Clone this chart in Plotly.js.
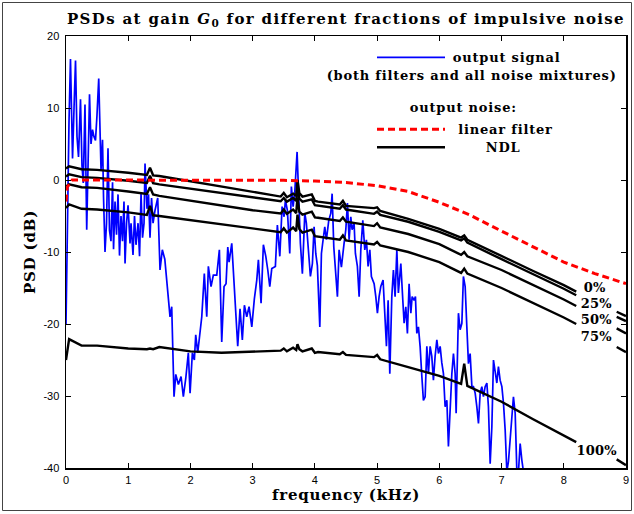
<!DOCTYPE html>
<html>
<head>
<meta charset="utf-8">
<script src="https://cdn.plot.ly/plotly-3.0.1.min.js"></script>
<style>
html,body{margin:0;padding:0;background:#fff}
#chart{width:634px;height:514px}
#chart text.gtitle{letter-spacing:1.35px}
#chart text.xtitle, #chart text.ytitle{letter-spacing:0.8px}
#chart .annotation text{letter-spacing:0.8px}
#chart .annotation[data-index="0"] text, #chart .annotation[data-index="1"] text, #chart .annotation[data-index="2"] text, #chart .annotation[data-index="3"] text, #chart .annotation[data-index="4"] text{letter-spacing:0.2px}
</style>
</head>
<body>
<div id="chart"></div>
<script>
// ---- tick labels ----
const xTickVals = [0,1,2,3,4,5,6,7,8,9];
const xTickText = ['0','1','2','3','4','5','6','7','8','9'];
const yTickVals = [-40,-30,-20,-10,0,10,20];
const yTickText = ['-40','-30','-20','-10','0','10','20'];

// ---- output signal (kHz, dB) ----
const fSignal = [0.000,0.024,0.048,0.072,0.105,0.129,0.153,0.177,0.201,0.233,0.257,0.278,0.305,0.333,0.354,0.378,0.402,0.426,0.450,0.474,0.498,0.526,0.563,0.587,0.603,0.627,0.651,0.675,0.699,0.723,0.748,0.764,0.788,0.812,0.836,0.860,0.884,0.908,0.932,0.949,0.973,0.997,1.029,1.045,1.077,1.101,1.125,1.158,1.182,1.206,1.230,1.254,1.270,1.302,1.326,1.350,1.375,1.399,1.431,1.474,1.511,1.548,1.588,1.619,1.672,1.699,1.736,1.764,1.806,1.849,1.886,1.924,1.966,1.994,2.031,2.063,2.085,2.117,2.143,2.182,2.223,2.262,2.288,2.331,2.368,2.423,2.465,2.503,2.540,2.572,2.600,2.621,2.664,2.717,2.760,2.797,2.834,2.867,2.905,2.942,2.986,3.027,3.066,3.092,3.135,3.172,3.211,3.243,3.275,3.307,3.365,3.397,3.436,3.473,3.505,3.526,3.558,3.596,3.622,3.650,3.677,3.714,3.741,3.767,3.799,3.838,3.863,3.891,3.928,3.960,3.987,4.014,4.040,4.079,4.105,4.132,4.159,4.185,4.223,4.256,4.277,4.304,4.330,4.362,4.389,4.426,4.469,4.497,4.523,4.550,4.577,4.598,4.630,4.651,4.683,4.711,4.738,4.770,4.802,4.828,4.855,4.883,4.908,4.952,4.979,5.005,5.032,5.059,5.096,5.124,5.150,5.177,5.204,5.236,5.262,5.289,5.317,5.342,5.381,5.413,5.434,5.461,5.487,5.514,5.542,5.563,5.595,5.616,5.638,5.664,5.691,5.719,5.744,5.772,5.799,5.825,5.852,5.879,5.905,5.932,5.960,5.986,6.013,6.040,6.066,6.093,6.121,6.146,6.174,6.201,6.227,6.254,6.270,6.291,6.307,6.334,6.362,6.387,6.415,6.442,6.468,6.495,6.523,6.548,6.576,6.603,6.629,6.656,6.683,6.709,6.736,6.764,6.789,6.817,6.844,6.870,6.897,6.924,6.950,6.977,7.005,7.031,7.058,7.085,7.111,7.138,7.166,7.191,7.219,7.246,7.272,7.299,7.326,7.352];
const psdSignal = [-20,-5,8,16.8,3,10,16.6,6,3.2,11.2,2,-0.4,10.5,-6.9,4,11.9,5,7,6,5.5,9,14.1,1.4,5.6,-2.3,-10,-6,4.4,-7,-8.5,-0.3,-9.6,-3,-7.6,-2,-10.5,-5,-8.5,-3,-11.6,-6,-3.5,-8.8,-6,-10.4,-5,-9,-6,-10.6,-1.9,-8,-6,2.3,-4,-2,-8,-2.5,-6,-4.2,-2.5,-12.5,-9.7,-11,-13.9,-19,-17.6,-30.1,-27,-28.4,-27.3,-30.1,-27.6,-24,-29.6,-24,-25,-21.5,-24,-22,-19,-13,-19,-12,-14.8,-13.2,-13.2,-9.7,-22.5,-14.8,-14.4,-9.3,-11.4,-8.8,-17.6,-23.1,-17.9,-22.2,-17.4,-19,-17.6,-20.4,-16.5,-13.9,-11.1,-17.1,-9,-10.6,-12.5,-14.8,-12.3,-12,-6.25,-10.6,-3.7,-5.1,-2.8,-4.2,-10.2,-0.9,-3.7,-1.6,3.9,-2.3,-8.8,-13,-4.6,-6,-9.7,-13.4,-11.6,-6.5,-10.2,-11.9,-20.4,-10.2,-8.3,-6.5,-8.3,-5.6,-4.6,-1.9,-9.3,-12.1,-16.2,-9.7,-12.1,-8.8,-6.9,-3.2,-8.3,-5.1,-6.9,-6,-10.2,-12,-16.2,-9.7,-5.6,-9.7,-8.3,-12,-9.7,-13.4,-14.4,-16.2,-18.5,-16.2,-14.8,-13.9,-18.5,-23.1,-16.7,-26.9,-16.2,-12.5,-16.2,-9.7,-15.7,-11.6,-16.7,-19.9,-17.6,-21.3,-14.4,-18.5,-16.2,-16.7,-16.2,-21.3,-20.4,-23.1,-27.3,-30.6,-30.1,-23.1,-26.9,-23.1,-24.5,-27.8,-24.5,-22.2,-24.1,-23.1,-25.4,-26.9,-31.5,-30.6,-37,-31.5,-26.9,-24.1,-26.9,-32.4,-23.6,-18.5,-20.8,-19.9,-13.4,-14.8,-20.4,-25.5,-24.1,-28.7,-28.7,-29.6,-31.5,-33.8,-29.6,-28.7,-30.1,-28.7,-28.2,-31.5,-39.4,-34.3,-25,-26.9,-28.2,-25.9,-27.8,-28.7,-31,-34.7,-40.5,-39.1,-35.9,-33.6,-30.1,-32.4,-40.5,-40.5,-36.6,-38.9,-40.5];

// ---- output noise, linear filter ----
const fLinear = [0,0.02,0.1,0.5,1,2,3,3.5,4,4.5,5,5.5,6,6.5,7,7.5,8,8.5,9];
const psdLinear = [-3,-1,0,0,0,0,0,-0.05,-0.15,-0.35,-0.8,-1.6,-3.1,-4.9,-7.1,-9.3,-11.4,-13.0,-14.4];

// ---- output noise, NDL for each impulsive fraction (null = label gap) ----
const fNdl = [0,0.05,0.25,0.5,1.0,1.3,1.35,1.4,1.5,2.0,2.5,3.0,3.45,3.5,3.55,3.65,3.7,3.72,3.75,3.8,3.95,4.0,4.05,4.4,4.45,4.5,4.95,5.0,5.05,5.5,6.0,6.35,6.4,6.45,7.0,7.5,8.0,8.2,8.5,8.85,9.0];
const ndl0   = [1.6,1.9,1.5,1.4,1.0,0.7,1.7,0.65,0.55,-0.2,-0.9,-1.7,-2.3,-1.8,-2.4,-1.9,-2.2,0.0,-1.8,-2.3,-2.0,-2.9,-3.0,-3.4,-2.9,-3.6,-3.9,-3.8,-4.3,-5.4,-6.8,-8.0,-7.7,-8.3,-10.6,-12.6,-14.6,-15.5,null,-18.3,-18.9];
const ndl25  = [0.5,0.8,0.4,0.3,-0.1,-0.4,0.6,-0.45,-0.6,-1.2,-1.8,-2.5,-2.95,-2.5,-3.0,-2.5,-2.9,-0.8,-2.6,-3.0,-2.7,-3.5,-3.55,-4.0,-3.5,-4.1,-4.7,-4.4,-4.85,-5.8,-7.2,-8.4,-8.1,-8.7,-11.0,-13.0,-15.1,-16.0,null,-19.0,-19.6];
const ndl50  = [-0.9,-0.6,-1.0,-1.1,-1.6,-1.95,-1.0,-2.0,-2.2,-2.9,-3.6,-4.2,-4.65,-4.1,-4.7,-4.1,-4.6,-2.4,-4.4,-4.8,-4.4,-5.2,-5.25,-5.7,-5.2,-5.8,-6.4,-6.0,-6.6,-7.5,-8.9,-10.4,-10.0,-10.6,-12.5,-14.5,-16.6,-17.5,null,-20.6,-21.3];
const ndl75  = [-3.9,-3.4,-4.0,-4.1,-4.5,-4.85,-3.6,-4.9,-5.0,-5.6,-6.2,-6.8,-7.25,-6.7,-7.3,-6.6,-7.1,-4.8,-6.8,-7.3,-6.9,-7.8,-7.85,-8.3,-7.7,-8.4,-8.95,-8.6,-9.1,-10.0,-11.4,-12.9,-12.3,-13.0,-15.0,-17.0,-19.1,-20.0,null,-23.2,-23.9];
const ndl100 = [-25.0,-22.1,-23.0,-23.0,-23.4,-23.5,-23.4,-23.5,-23.2,-23.8,-24.0,-23.8,-23.7,-23.4,-23.8,-23.3,-23.6,-22.8,-23.5,-23.8,-23.4,-24.0,-23.9,-24.2,-23.9,-24.3,-24.6,-24.3,-24.9,-26.0,-27.2,-28.3,-25.5,-28.6,-30.8,-33.2,-35.5,-36.4,null,-38.8,-39.6];
const ndlSeries = [ndl0, ndl25, ndl50, ndl75, ndl100];
const ndlLabels = ['0%','25%','50%','75%','100%'];

// ---- legend texts ----
const legSignal = 'output signal';
const legSignal2 = '(both filters and all noise mixtures)';
const legNoiseHead = 'output noise:';
const legLinear = 'linear filter';
const legNdl = 'NDL';

const serif = 'DejaVu Serif';
const sans = 'Liberation Sans';

const traces = [];
traces.push({x: fSignal, y: psdSignal, mode: 'lines', line: {color: '#0000ff', width: 1.7}, showlegend: false, hoverinfo: 'skip'});
ndlSeries.forEach(s => traces.push({x: fNdl, y: s, mode: 'lines', line: {color: '#000000', width: 2.4}, connectgaps: false, showlegend: false, hoverinfo: 'skip'}));
traces.push({x: fLinear, y: psdLinear, mode: 'lines', line: {color: '#ff0000', width: 3, dash: '7px,4px'}, showlegend: false, hoverinfo: 'skip'});

// label anchor positions (data coords) for the fraction labels
const labelPos = [[8.50,-14.9],[8.52,-17.1],[8.52,-19.4],[8.52,-21.7],[8.54,-37.6]];
const annotations = ndlLabels.map((t,i) => ({x: labelPos[i][0], y: labelPos[i][1], xref:'x', yref:'y', text: t, showarrow:false, font:{family: serif, size: 13, color:'#000', weight:'bold'}}));

const pfx = px => (px-66)/560, pfy = py => (468-py)/432;
const legFont = {family: serif, size: 13, color: '#000', weight: 'bold'};
annotations.push(
  {xref:'paper', yref:'paper', x: pfx(456), y: pfy(57), xanchor:'left', yanchor:'middle', text: legSignal, showarrow:false, font: legFont},
  {xref:'paper', yref:'paper', x: pfx(471.5), y: pfy(75), xanchor:'center', yanchor:'middle', text: legSignal2, showarrow:false, font: legFont},
  {xref:'paper', yref:'paper', x: pfx(463), y: pfy(108), xanchor:'center', yanchor:'middle', text: legNoiseHead, showarrow:false, font: legFont},
  {xref:'paper', yref:'paper', x: pfx(462), y: pfy(129), xanchor:'left', yanchor:'middle', text: legLinear, showarrow:false, font: legFont},
  {xref:'paper', yref:'paper', x: pfx(503), y: pfy(147), xanchor:'center', yanchor:'middle', text: legNdl, showarrow:false, font: legFont}
);

const shapes = [
  {type:'line', xref:'paper', yref:'paper', x0: pfx(377), x1: pfx(445), y0: pfy(57.3), y1: pfy(57.3), line:{color:'#0000ff', width:1.7}},
  {type:'line', xref:'paper', yref:'paper', x0: pfx(377), x1: pfx(445), y0: pfy(129.3), y1: pfy(129.3), line:{color:'#ff0000', width:3, dash:'7px,4px'}},
  {type:'line', xref:'paper', yref:'paper', x0: pfx(377), x1: pfx(445), y0: pfy(147.3), y1: pfy(147.3), line:{color:'#000000', width:2.4}},
  {type:'rect', xref:'paper', yref:'paper', x0: pfx(2.5), x1: pfx(631.5), y0: pfy(510.5), y1: pfy(2.5), line:{color:'#444', width:1}}
];

const axisCommon = {showgrid:false, zeroline:false, showline:true, linecolor:'#000', linewidth:1.5, mirror:'ticks', ticks:'inside', ticklen:5, tickwidth:1, tickcolor:'#000', tickmode:'array', tickfont:{family: sans, size: 11, color:'#000'}};

const layout = {
  width: 634, height: 514,
  margin: {l:66, r:8, t:36, b:46},
  paper_bgcolor: '#fff', plot_bgcolor: '#fff',
  showlegend: false,
  title: {text: 'PSDs at gain <i>G</i><sub>0</sub> for different fractions of impulsive noise', font:{family: serif, size: 15, color:'#000', weight:'bold'}, x: 0.5, xref:'paper', xanchor:'center', y: 1-19/514, yref:'container', yanchor:'middle'},
  xaxis: Object.assign({}, axisCommon, {range:[0,9], tickvals: xTickVals, ticktext: xTickText, ticklabelstandoff: 1, title:{text:'frequency (kHz)', font:{family: serif, size: 15, color:'#000', weight:'bold'}, standoff: 2}}),
  yaxis: Object.assign({}, axisCommon, {range:[-40,20], tickvals: yTickVals, ticktext: yTickText, ticklabelstandoff: 3, title:{text:'PSD (dB)', font:{family: serif, size: 15, color:'#000', weight:'bold'}, standoff: 4}}),
  annotations: annotations,
  shapes: shapes
};

Plotly.newPlot('chart', traces, layout, {displayModeBar:false, staticPlot:true});
</script>
</body>
</html>
